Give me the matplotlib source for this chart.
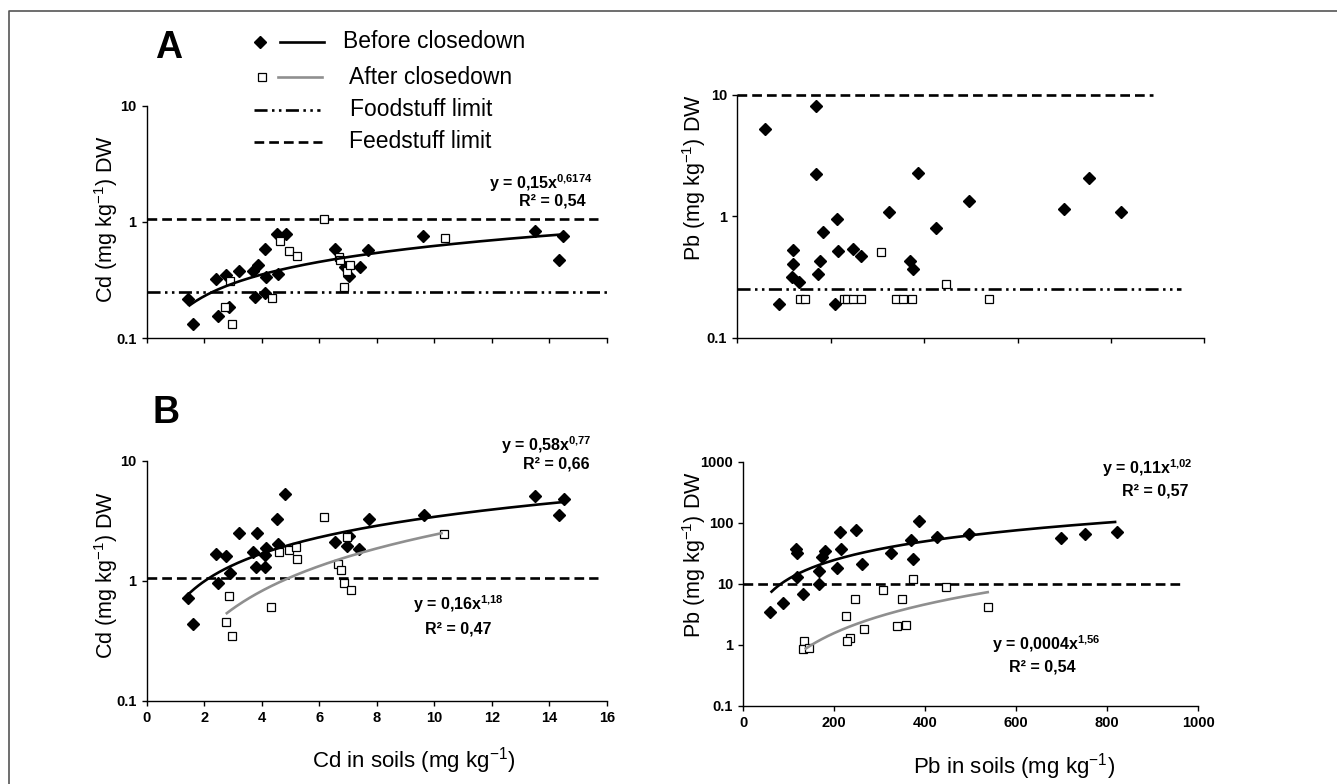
import numpy as np
import matplotlib
matplotlib.use('Agg')
import matplotlib.pyplot as plt
from matplotlib.lines import Line2D
from matplotlib.ticker import FixedLocator, NullLocator, FixedFormatter

plt.rcParams['font.family'] = ['Liberation Sans', 'DejaVu Sans']
plt.rcParams['mathtext.fontset'] = 'custom'
plt.rcParams['mathtext.rm'] = 'Liberation Sans'
plt.rcParams['mathtext.it'] = 'Liberation Sans:italic'
plt.rcParams['mathtext.bf'] = 'Liberation Sans:bold'
plt.rcParams['lines.scale_dashes'] = False

# ---------------- data ----------------
# A: Cd
cd_a_before_x = [1.45, 1.6, 2.41, 2.49, 2.76, 2.87, 3.22, 3.71, 3.77, 3.86, 4.11, 4.15, 4.13,
                 4.52, 4.56, 4.85, 6.56, 6.9, 7.04, 7.42, 7.71, 9.62, 13.5, 14.49, 14.35]
cd_a_before_y = [0.216, 0.133, 0.322, 0.155, 0.347, 0.187, 0.376, 0.376, 0.227, 0.423, 0.586, 0.337, 0.243,
                 0.784, 0.354, 0.794, 0.586, 0.411, 0.342, 0.411, 0.572, 0.754, 0.832, 0.754, 0.469]
cd_a_after_x = [2.9, 2.73, 2.98, 4.35, 4.62, 4.94, 5.22, 6.16, 6.68, 6.74, 6.96, 7.08, 6.86, 10.37]
cd_a_after_y = [0.31, 0.187, 0.134, 0.223, 0.687, 0.561, 0.508, 1.055, 0.5, 0.469, 0.38, 0.43, 0.274, 0.725]

# A: Pb
pb_a_before_x = [58.7, 88.6, 116.4, 118.6, 118.6, 131.4, 167.8, 167.8, 172.8, 177.7, 183.5, 208.5, 212.8,
                 215.6, 248.4, 264.2, 324.8, 370.5, 375.6, 386.3, 426.1, 496.1, 699.6, 753.0, 821.6]
pb_a_before_y = [5.2, 0.19, 0.316, 0.407, 0.525, 0.289, 8.1, 2.22, 0.333, 0.429, 0.743, 0.19, 0.957,
                 0.515, 0.538, 0.471, 1.08, 0.429, 0.37, 2.26, 0.797, 1.33, 1.156, 2.07, 1.08]
pb_a_after_x = [133.5, 145, 227.8, 235.5, 247, 265.5, 307.5, 339.2, 355.7, 374.3, 447.5, 538.8]
pb_a_after_y = [0.21, 0.21, 0.21, 0.21, 0.21, 0.21, 0.509, 0.21, 0.21, 0.21, 0.279, 0.21]

# B: Cd
cd_b_before_x = [1.45, 1.6, 2.41, 2.49, 2.76, 2.9, 3.22, 3.71, 3.79, 3.85, 4.14, 4.1, 4.11,
                 4.53, 4.58, 4.82, 6.55, 6.96, 7.03, 7.4, 7.72, 9.63, 13.5, 14.51, 14.35]
cd_b_before_y = [0.713, 0.438, 1.67, 0.95, 1.61, 1.15, 2.5, 1.75, 1.3, 2.5, 1.89, 1.63, 1.3,
                 3.31, 2.02, 5.3, 2.1, 1.95, 2.35, 1.84, 3.31, 3.56, 5.08, 4.83, 3.56]
cd_b_after_x = [2.87, 2.77, 2.97, 4.32, 4.61, 4.94, 5.2, 5.24, 6.18, 6.67, 6.76, 6.87, 7.11, 6.96, 10.33]
cd_b_after_y = [0.742, 0.452, 0.344, 0.6, 1.73, 1.81, 1.93, 1.51, 3.42, 1.39, 1.22, 0.96, 0.84, 2.31, 2.47]

# B: Pb
pb_b_before_x = [58.7, 87.9, 115, 117.3, 117.3, 131.9, 165.7, 167, 172.2, 179.6, 206.6, 212.5,
                 215.4, 247, 261, 325.3, 368.6, 373.6, 385.5, 425, 495.3, 697.5, 751.6, 820.6]
pb_b_before_y = [3.45, 4.9, 37, 31.9, 13.1, 6.8, 16.3, 10, 27.5, 35, 18, 70.8,
                 37, 76, 21.3, 31.9, 52, 25.6, 105, 58, 66.5, 55.3, 66.5, 70]
pb_b_after_x = [372.3, 307.7, 445.5, 246.2, 348.8, 537, 225, 265.3, 337.8, 357.6, 233.5, 228.6, 133.4, 131.9, 145]
pb_b_after_y = [12.0, 8.0, 8.7, 5.56, 5.56, 4.08, 2.94, 1.78, 2.03, 2.14, 1.29, 1.17, 1.15, 0.86, 0.886]

# power-law trendlines shown on the chart: (a, b, xmin, xmax)
fit_cd_a_before = [0.15, 0.6174, 1.45, 14.5]
fit_cd_b_before = [0.58, 0.77, 1.4, 14.5]
fit_cd_b_after = [0.16, 1.18, 2.75, 10.3]
fit_pb_b_before = [0.11, 1.02, 60, 820]
fit_pb_b_after = [0.0004, 1.56, 135, 540]

# limits
cd_food_limit = 0.25
cd_feed_limit = 1.06
pb_food_limit = 0.25
pb_feed_limit = 10

cd_xticks = [0, 2, 4, 6, 8, 10, 12, 14, 16]
pb_xticks = [0, 200, 400, 600, 800, 1000]
y_ticks_a = [0.1, 1, 10]
y_tick_labels_a = ['0.1', '1', '10']
y_ticks_b_pb = [0.1, 1, 10, 100, 1000]
y_tick_labels_b_pb = ['0.1', '1', '10', '100', '1000']

# ---------------- figure ----------------
W, H = 1337, 784
fig = plt.figure(figsize=(W / 100, H / 100), dpi=100)
fig.patch.set_facecolor('white')


def px_axes(left, right, bottom, top):
    return fig.add_axes([left / W, 1 - bottom / H, (right - left) / W, (bottom - top) / H])


def fx(px):
    return px / W


def fy(py):
    return 1 - py / H


GRAY = '#8f8f8f'
DASHED = (0, (7.0, 3.6))
DASHDOT = (0, (9.4, 3.2, 1.8, 3.2, 1.8, 3.2))
MS_D = 5.8
MS_S = 5.2


def style_axis(ax, xlim, xticks, show_xlabels, yticks, ylabels, ylim):
    ax.set_yscale('log')
    ax.set_xlim(*xlim)
    ax.set_ylim(*ylim)
    for s in ['top', 'right']:
        ax.spines[s].set_visible(False)
    for s in ['left', 'bottom']:
        ax.spines[s].set_linewidth(1.0)
        ax.spines[s].set_color('black')
    ax.xaxis.set_major_locator(FixedLocator(xticks))
    ax.yaxis.set_major_locator(FixedLocator(yticks))
    ax.yaxis.set_major_formatter(FixedFormatter(ylabels))
    ax.yaxis.set_minor_locator(NullLocator())
    ax.xaxis.set_minor_locator(NullLocator())
    ax.tick_params(direction='out', length=3.8, width=1.0, labelsize=10.5, pad=3.5, colors='black')
    for lab in ax.get_xticklabels() + ax.get_yticklabels():
        lab.set_fontweight('bold')
    if not show_xlabels:
        ax.set_xticklabels([])
    ax.patch.set_alpha(0)


def scatter(ax, bx, by, axx, ay):
    ax.plot(bx, by, linestyle='none', marker='D', ms=MS_D, color='black', zorder=3, clip_on=False)
    ax.plot(axx, ay, linestyle='none', marker='s', ms=MS_S, mfc='white', mec='black', mew=0.9,
            zorder=3, clip_on=False)


def trend(ax, fit, color):
    a, b, x0, x1 = fit
    xs = np.linspace(x0, x1, 200)
    ax.plot(xs, a * xs ** b, color=color, lw=1.9, zorder=4, solid_capstyle='butt')


def hline(ax, y, x0, x1, ls):
    ax.plot([x0, x1], [y, y], color='black', lw=1.9, linestyle=ls, zorder=2, clip_on=False)


# Top-left: Cd A
ax1 = px_axes(146.7, 606.7, 338.3, 105.5)
style_axis(ax1, (0, 16), cd_xticks, False, y_ticks_a, y_tick_labels_a, (0.1, 10))
hline(ax1, cd_feed_limit, 0, 15.7, DASHED)
hline(ax1, cd_food_limit, 0, 16, DASHDOT)
scatter(ax1, cd_a_before_x, cd_a_before_y, cd_a_after_x, cd_a_after_y)
trend(ax1, fit_cd_a_before, 'black')

# Top-right: Pb A
ax2 = px_axes(737.3, 1204.3, 337.7, 95)
style_axis(ax2, (0, 1000), pb_xticks, False, y_ticks_a, y_tick_labels_a, (0.1, 10))
hline(ax2, pb_feed_limit, 0, 890, DASHED)
hline(ax2, pb_food_limit, 0, 950, DASHDOT)
scatter(ax2, pb_a_before_x, pb_a_before_y, pb_a_after_x, pb_a_after_y)

# Bottom-left: Cd B
ax3 = px_axes(146.7, 606.7, 700.5, 461)
style_axis(ax3, (0, 16), cd_xticks, True, y_ticks_a, y_tick_labels_a, (0.1, 10))
hline(ax3, cd_feed_limit, 0, 15.7, DASHED)
scatter(ax3, cd_b_before_x, cd_b_before_y, cd_b_after_x, cd_b_after_y)
trend(ax3, fit_cd_b_before, 'black')
trend(ax3, fit_cd_b_after, GRAY)

# Bottom-right: Pb B
ax4 = px_axes(743.3, 1198.3, 705.7, 461.7)
style_axis(ax4, (0, 1000), pb_xticks, True, y_ticks_b_pb, y_tick_labels_b_pb, (0.1, 1000))
hline(ax4, pb_feed_limit, 0, 960, DASHED)
scatter(ax4, pb_b_before_x, pb_b_before_y, pb_b_after_x, pb_b_after_y)
trend(ax4, fit_pb_b_before, 'black')
trend(ax4, fit_pb_b_after, GRAY)

# axis labels
LAB = 15.5
fig.text(fx(106), fy(219), 'Cd (mg kg$^{-1}$) DW', rotation=90, ha='center', va='center', fontsize=LAB)
fig.text(fx(106), fy(575), 'Cd (mg kg$^{-1}$) DW', rotation=90, ha='center', va='center', fontsize=LAB)
fig.text(fx(694), fy(178), 'Pb (mg kg$^{-1}$) DW', rotation=90, ha='center', va='center', fontsize=LAB)
fig.text(fx(694), fy(555), 'Pb (mg kg$^{-1}$) DW', rotation=90, ha='center', va='center', fontsize=LAB)
fig.text(fx(414), fy(761), 'Cd in soils (mg kg$^{-1}$)', ha='center', va='center', fontsize=16)
fig.text(fx(1014), fy(767), 'Pb in soils (mg kg$^{-1}$)', ha='center', va='center', fontsize=16)

# panel letters
fig.text(fx(169), fy(48), 'A', ha='center', va='center', fontsize=27, fontweight='bold')
fig.text(fx(166), fy(413), 'B', ha='center', va='center', fontsize=27, fontweight='bold')

# equations
EQ = 11.5
fig.text(fx(592), fy(183), r'y = 0,15x$^{\mathbf{0{,}6174}}$', ha='right', va='center', fontsize=EQ, fontweight='bold')
fig.text(fx(586), fy(201), 'R² = 0,54', ha='right', va='center', fontsize=EQ, fontweight='bold')
fig.text(fx(592), fy(445), r'y = 0,58x$^{\mathbf{0{,}77}}$', ha='right', va='center', fontsize=EQ, fontweight='bold')
fig.text(fx(590), fy(464), 'R² = 0,66', ha='right', va='center', fontsize=EQ, fontweight='bold')
fig.text(fx(458), fy(604), r'y = 0,16x$^{\mathbf{1{,}18}}$', ha='center', va='center', fontsize=EQ, fontweight='bold')
fig.text(fx(458), fy(629), 'R² = 0,47', ha='center', va='center', fontsize=EQ, fontweight='bold')
fig.text(fx(1193), fy(468), r'y = 0,11x$^{\mathbf{1{,}02}}$', ha='right', va='center', fontsize=EQ, fontweight='bold')
fig.text(fx(1189), fy(491), 'R² = 0,57', ha='right', va='center', fontsize=EQ, fontweight='bold')
fig.text(fx(1046), fy(644), r'y = 0,0004x$^{\mathbf{1{,}56}}$', ha='center', va='center', fontsize=EQ, fontweight='bold')
fig.text(fx(1042), fy(667), 'R² = 0,54', ha='center', va='center', fontsize=EQ, fontweight='bold')

# legend (manual, figure coordinates)
LEG = 16.5
rows = [41.7, 77, 109.5, 142]
fig.add_artist(Line2D([fx(260)], [fy(rows[0])], marker='D', ms=MS_D, color='black', ls='none'))
fig.add_artist(Line2D([fx(280), fx(324)], [fy(rows[0])] * 2, color='black', lw=1.9))
fig.text(fx(343), fy(rows[0]), 'Before closedown', ha='left', va='center', fontsize=LEG)
fig.add_artist(Line2D([fx(262)], [fy(rows[1])], marker='s', ms=MS_S, mfc='white', mec='black', mew=0.9, ls='none'))
fig.add_artist(Line2D([fx(278), fx(322)], [fy(rows[1])] * 2, color=GRAY, lw=1.9))
fig.text(fx(349), fy(rows[1]), 'After closedown', ha='left', va='center', fontsize=LEG)
fig.add_artist(Line2D([fx(254), fx(320)], [fy(rows[2])] * 2, color='black', lw=1.9, linestyle=DASHDOT))
fig.text(fx(350), fy(rows[2]), 'Foodstuff limit', ha='left', va='center', fontsize=LEG)
fig.add_artist(Line2D([fx(254), fx(322)], [fy(rows[3])] * 2, color='black', lw=1.9, linestyle=DASHED))
fig.text(fx(349), fy(rows[3]), 'Feedstuff limit', ha='left', va='center', fontsize=LEG)

# outer frame (left and top only)
fig.add_artist(Line2D([fx(9), fx(9), fx(1337)], [fy(784), fy(11), fy(11)], color='#555555', lw=1.2))

fig.savefig('out.png', dpi=100, facecolor='white')
